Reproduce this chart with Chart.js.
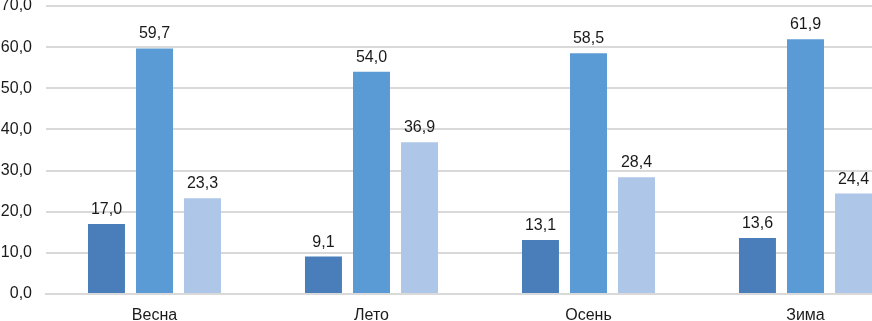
<!DOCTYPE html>
<html>
<head>
<meta charset="utf-8">
<script src="https://cdn.jsdelivr.net/npm/chart.js@4"></script>
<style>
  html, body { margin: 0; padding: 0; background: #fff; overflow: hidden; }
  body { width: 872px; height: 321px; position: relative; }
  #wrap { position: absolute; left: 0; top: 0; width: 914px; height: 321px; }
</style>
</head>
<body>
<div id="wrap"><canvas id="chart"></canvas></div>
<script>
const seasons = ["Весна", "Лето", "Осень", "Зима"];
const series_a = [17.0, 9.1, 13.1, 13.6];
const series_b = [59.7, 54.0, 58.5, 61.9];
const series_c = [23.3, 36.9, 28.4, 24.4];

const fmt = v => v.toFixed(1).replace('.', ',');
const font_family = '"Liberation Sans", Arial, sans-serif';

// labels above bars
const bar_labels = {
    id: 'bar_labels',
    afterDatasetsDraw(chart) {
        const ctx = chart.ctx;
        ctx.save();
        ctx.font = '16px ' + font_family;
        ctx.fillStyle = '#1a1a1a';
        ctx.textAlign = 'center';
        ctx.textBaseline = 'alphabetic';
        chart.data.datasets.forEach((ds, i) => {
            chart.getDatasetMeta(i).data.forEach((bar, j) => {
                ctx.fillText(fmt(ds.data[j]), bar.x, bar.y - 10);
            });
        });
        ctx.restore();
    }
};

new Chart(document.getElementById('chart'), {
    type: 'bar',
    data: {
        labels: seasons,
        datasets: [
            { data: series_a, backgroundColor: 'rgb(74,126,187)' },
            { data: series_b, backgroundColor: 'rgb(91,155,213)' },
            { data: series_c, backgroundColor: 'rgb(174,198,232)' }
        ]
    },
    options: {
        responsive: true,
        maintainAspectRatio: false,
        animation: false,
        layout: { padding: { top: 6, right: 0, left: 0, bottom: 0 } },
        datasets: {
            bar: { categoryPercentage: 0.664, barPercentage: 0.77 }
        },
        scales: {
            x: {
                grid: { display: false },
                border: { color: '#d9d9d9', width: 2 },
                ticks: {
                    color: '#1a1a1a',
                    font: { family: font_family, size: 16 },
                    padding: 4
                },
                afterFit: scale => { scale.height = 27; scale.paddingLeft = 0; scale.paddingRight = 0; }
            },
            y: {
                min: 0,
                max: 70,
                grid: { color: '#d9d9d9', lineWidth: 2, drawTicks: false },
                border: { display: false },
                ticks: {
                    stepSize: 10,
                    color: '#1a1a1a',
                    padding: 14,
                    font: { family: font_family, size: 16 },
                    callback: v => fmt(v)
                },
                afterFit: scale => { scale.width = 46; scale.paddingTop = 0; scale.paddingBottom = 0; }
            }
        },
        plugins: {
            legend: { display: false },
            tooltip: { enabled: false }
        }
    },
    plugins: [bar_labels]
});
</script>
</body>
</html>
